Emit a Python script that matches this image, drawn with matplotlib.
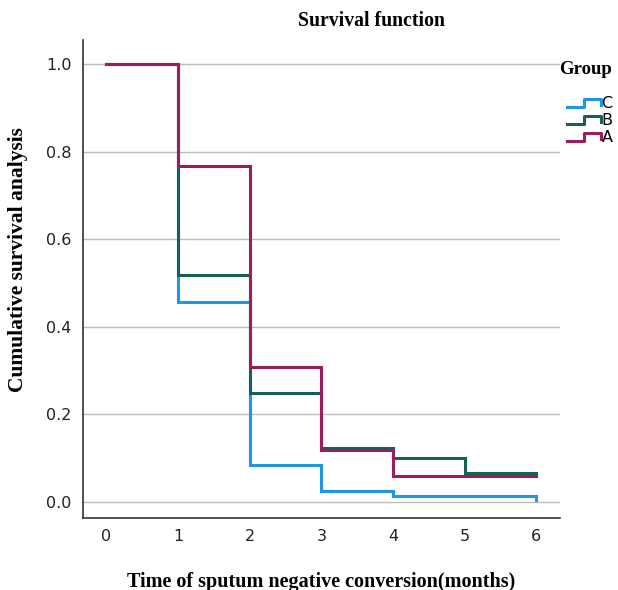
import matplotlib
matplotlib.use("Agg")
from matplotlib import pyplot as plt
from matplotlib.lines import Line2D
from matplotlib.legend_handler import HandlerBase

months = [0, 1, 2, 3, 4, 5, 6]
group_names = ["C", "B", "A"]
survival_c = [1.0, 0.457, 0.084, 0.024, 0.014, 0.014, 0.004]
survival_b = [1.0, 0.518, 0.248, 0.123, 0.100, 0.066, 0.066]
survival_a = [1.0, 0.767, 0.308, 0.118, 0.059, 0.059, 0.059]
y_ticks = [0.0, 0.2, 0.4, 0.6, 0.8, 1.0]

colors = {"C": "#2196e6", "B": "#17605a", "A": "#9c1d5a"}
serif = "Liberation Serif"


class StepHandler(HandlerBase):
    # little step icon like in SPSS legends
    def create_artists(self, legend, orig_handle, xdescent, ydescent,
                       width, height, fontsize, trans):
        w = width
        xs = [0, w * 0.5, w * 0.5, w, w]
        ys = [0.1 * height, 0.1 * height, 0.85 * height, 0.85 * height, 0.3 * height]
        line = Line2D(xs, ys, color=orig_handle.get_color(),
                      linewidth=orig_handle.get_linewidth(), transform=trans)
        return [line]


def main():
    fig = plt.figure(figsize=(6.18, 5.9), dpi=100)
    ax = fig.add_axes([0.134, 0.122, 0.772, 0.81])

    series = {"C": survival_c, "B": survival_b, "A": survival_a}
    handles = []
    for name in group_names:
        (line,) = ax.step(months, series[name], where="post",
                          color=colors[name], linewidth=2.2, label=name,
                          solid_joinstyle="miter")
        handles.append(line)

    ax.set_xlim(-0.33, 6.33)
    ax.set_ylim(-0.037, 1.055)
    ax.set_yticks(y_ticks)
    ax.set_yticklabels([f"{v:.1f}" for v in y_ticks])
    ax.set_xticks(months)
    ax.grid(axis="y", color="#bdbdbd", linewidth=1.0)
    ax.set_axisbelow(True)
    ax.tick_params(length=0, labelsize=11.5, pad=8, colors="#222222")

    for side in ["top", "right"]:
        ax.spines[side].set_visible(False)
    for side in ["left", "bottom"]:
        ax.spines[side].set_color("#333333")
        ax.spines[side].set_linewidth(1.2)

    fig.text(371 / 618, 1 - 21 / 590, "Survival function", fontfamily=serif,
             fontweight="bold", fontsize=14.2, ha="center", va="center")
    ax.set_ylabel("Cumulative survival analysis", fontfamily=serif,
                  fontweight="bold", fontsize=15.5)
    ax.yaxis.set_label_coords(-0.115, 0.54)
    ax.set_xlabel("Time of sputum negative conversion(months)", fontfamily=serif,
                  fontweight="bold", fontsize=14.5)
    ax.xaxis.set_label_coords(0.5, -0.112)

    fig.text(559 / 618, 1 - 70 / 590, "Group", fontfamily=serif,
             fontweight="bold", fontsize=13.5, ha="left", va="center")
    fig.legend(handles=handles, labels=group_names,
               handler_map={Line2D: StepHandler()},
               loc="upper left", bbox_to_anchor=(556 / 618, 1 - 85 / 590),
               frameon=False, fontsize=11.5, handlelength=2.1,
               handletextpad=0.05, labelspacing=0.12, borderpad=0.2)

    fig.savefig("out.png", dpi=100)


if __name__ == "__main__":
    main()
